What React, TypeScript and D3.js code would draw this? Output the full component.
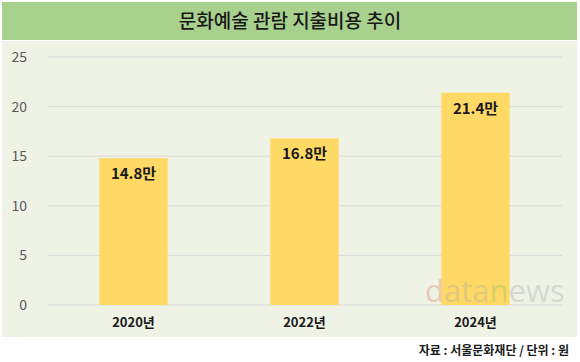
import React, { useEffect, useRef } from "react";
import * as d3 from "d3";

const categories = ["2020년", "2022년", "2024년"];
const values = [14.8, 16.8, 21.4];
const valueLabels = ["14.8만", "16.8만", "21.4만"];
const yTicks = [0, 5, 10, 15, 20, 25];

const W = 580;
const H = 362;
const FONT = "'Noto Sans CJK KR', 'Noto Sans', sans-serif";

export default function App() {
  const svgRef = useRef<SVGSVGElement>(null);

  useEffect(() => {
    if (!svgRef.current) return;
    document.body.style.margin = "0";
    const svg = d3.select(svgRef.current);
    svg.selectAll("*").remove();

    // backgrounds
    svg.append("rect").attr("width", W).attr("height", H).attr("fill", "#fff");
    svg
      .append("rect")
      .attr("x", 2)
      .attr("y", 2)
      .attr("width", 575)
      .attr("height", 38)
      .attr("fill", "#a9d18e");
    svg
      .append("rect")
      .attr("x", 2)
      .attr("y", 41)
      .attr("width", 575)
      .attr("height", 296)
      .attr("fill", "#eef3e6");

    svg
      .append("text")
      .attr("x", W / 2)
      .attr("y", 28)
      .attr("text-anchor", "middle")
      .attr("font-family", FONT)
      .attr("font-size", 19)
      .attr("font-weight", 500)
      .attr("fill", "#1a1a1a")
      .text("문화예술 관람 지출비용 추이");

    const x = d3
      .scaleBand<string>()
      .domain(categories)
      .range([48, 561])
      .paddingInner(0.6)
      .paddingOuter(0.3);
    const y = d3.scaleLinear().domain([0, 25]).range([305, 57]);

    // grid
    svg
      .append("g")
      .selectAll("line")
      .data(yTicks)
      .join("line")
      .attr("x1", 48)
      .attr("x2", 562)
      .attr("y1", (d) => y(d))
      .attr("y2", (d) => y(d))
      .attr("stroke", "#d9d9d9")
      .attr("stroke-width", 1);

    svg
      .append("g")
      .selectAll("text")
      .data(yTicks)
      .join("text")
      .attr("x", 27)
      .attr("y", (d) => y(d) + 5)
      .attr("text-anchor", "end")
      .attr("font-family", FONT)
      .attr("font-size", 14)
      .attr("fill", "#595959")
      .text((d) => d);

    svg
      .append("g")
      .selectAll("rect")
      .data(values)
      .join("rect")
      .attr("x", (_, i) => x(categories[i])!)
      .attr("y", (d) => y(d))
      .attr("width", x.bandwidth())
      .attr("height", (d) => y(0) - y(d))
      .attr("fill", "#ffd966");

    // watermark over the plot
    const wm = svg
      .append("text")
      .attr("x", 425)
      .attr("y", 302)
      .attr("font-family", "'Open Sans', sans-serif")
      .attr("font-size", 31)
      .attr("opacity", 0.35);
    wm.append("tspan").attr("fill", "#e07a5f").text("d");
    wm.append("tspan").attr("fill", "#aaaaaa").text("ata");
    wm.append("tspan").attr("fill", "#8cbf6a").text("n");
    wm.append("tspan").attr("fill", "#aaaaaa").text("ews");

    svg
      .append("g")
      .selectAll("text")
      .data(values)
      .join("text")
      .attr("x", (_, i) => x(categories[i])! + x.bandwidth() / 2)
      .attr("y", (d) => y(d) + 21)
      .attr("text-anchor", "middle")
      .attr("font-family", FONT)
      .attr("font-size", 15)
      .attr("font-weight", "bold")
      .attr("fill", "#1a1a1a")
      .text((_, i) => valueLabels[i]);

    svg
      .append("g")
      .selectAll("text")
      .data(categories)
      .join("text")
      .attr("x", (d) => x(d)! + x.bandwidth() / 2)
      .attr("y", 327)
      .attr("text-anchor", "middle")
      .attr("font-family", FONT)
      .attr("font-size", 13)
      .attr("font-weight", "bold")
      .attr("fill", "#1a1a1a")
      .text((d) => d);

    svg
      .append("text")
      .attr("x", 569)
      .attr("y", 355)
      .attr("text-anchor", "end")
      .attr("font-family", FONT)
      .attr("font-size", 12)
      .attr("font-weight", "bold")
      .attr("fill", "#1a1a1a")
      .text("자료 : 서울문화재단 / 단위 : 원");
  }, []);

  return <svg ref={svgRef} width={W} height={H} style={{ display: "block" }} />;
}
